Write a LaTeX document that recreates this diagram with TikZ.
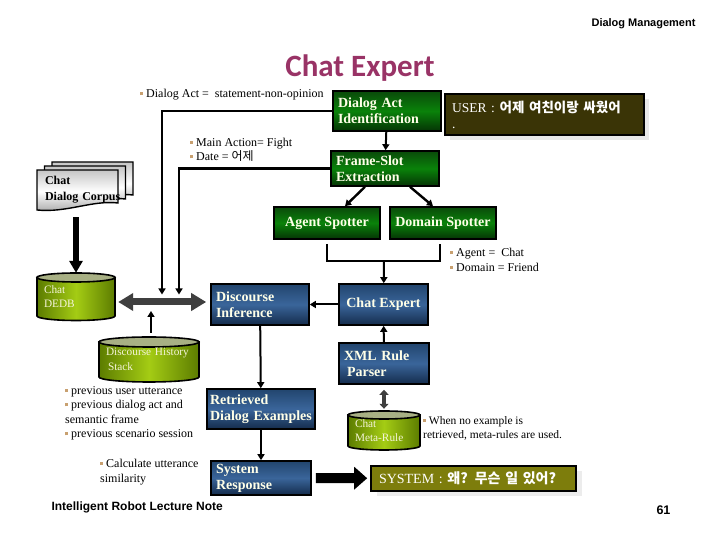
\documentclass[tikz,border=0pt]{standalone}
\usepackage{fontspec}
\setmainfont{Liberation Serif}
\newfontfamily\sansfont{Liberation Sans}
\newfontfamily\titlefont{Carlito}
\newfontfamily\krfont{Noto Sans CJK KR}
\usetikzlibrary{arrows.meta, positioning, shadows}

\definecolor{titlec}{HTML}{993366}
\definecolor{bulletc}{HTML}{C8A070}
\definecolor{boxtext}{HTML}{FFFFE8}
\definecolor{gtop}{HTML}{0A4A0A}
\definecolor{gmid}{HTML}{0A820A}
\definecolor{gbot}{HTML}{053405}
\definecolor{btop}{HTML}{22456E}
\definecolor{bmid}{HTML}{3A659A}
\definecolor{bbot}{HTML}{142C4C}
\definecolor{dbside}{HTML}{5C7C00}
\definecolor{dbmid}{HTML}{A4CC14}
\definecolor{dbcap}{HTML}{A8B084}
\definecolor{dbtext}{HTML}{F4F4D8}
\definecolor{userc}{HTML}{3A3406}
\definecolor{sysc}{HTML}{7D7D0C}
\definecolor{dgray}{HTML}{3F3F3F}

\newcommand{\sq}{\textcolor{bulletc}{\rule[0.22em]{0.25em}{0.25em}}\hspace{0.25em}}

% cylinder: name, cx, top y, bottom y, rx, ry, text width, text
\newcommand{\dbdrum}[8]{%
  \shade[left color=dbside, right color=dbside, middle color=dbmid, draw=black, line width=1.6pt]
    (#2-#5,#3) -- (#2-#5,#4) arc[start angle=180, end angle=360, x radius=#5pt, y radius=#6pt] -- (#2+#5,#3) -- cycle;
  \filldraw[fill=dbcap, line width=1.6pt] (#2,#3) ellipse[x radius=#5pt, y radius=#6pt];
  \node[drumtext, text width=#7, minimum height={#3-#4+2*#6}] (#1) at (#2,{(#3+#4)/2}) {#8};}

% one page of the corpus stack
\newcommand{\docpage}[2]{%
  \shade[top color=gray!45, bottom color=gray!70, middle color=white, draw=black, line width=1.4pt]
    (#1,#2) -- (#1+81,#2) -- (#1+81,#2-33) .. controls (#1+55,#2-30) and (#1+30,#2-43) .. (#1,#2-40) -- cycle;}

\tikzset{
  box/.style={draw=black, line width=1.6pt, align=left, inner xsep=5pt, inner ysep=1pt,
    font=\bfseries\fontsize{14}{16}\selectfont, text=boxtext},
  greenbox/.style={box, top color=gtop, bottom color=gbot, middle color=gmid},
  bluebox/.style={box, top color=btop, bottom color=bbot, middle color=bmid},
  drumtext/.style={align=left, inner xsep=7pt, inner ysep=0pt, text=dbtext, font=\fontsize{11.3}{14.5}\selectfont},
  note/.style={align=left, inner sep=0pt, anchor=west, font=\fontsize{12}{14.5}\selectfont},
  flow/.style={line width=2pt, -{Triangle[width=7pt,length=6pt]}},
  wire/.style={line width=2.2pt},
  fat/.style={line width=6pt, -{Triangle[width=13pt,length=12pt]}},
  bigfat/.style={line width=10pt, -{Triangle[width=22pt,length=13pt]}},
  twoway/.style={dgray, line width=7pt, {Triangle[width=17pt,length=15pt]}-{Triangle[width=17pt,length=15pt]}},
  smalltwoway/.style={dgray, line width=4pt, {Triangle[width=9pt,length=5pt]}-{Triangle[width=9pt,length=5pt]}},
}

\begin{document}
\begin{tikzpicture}[x=1pt, y=1pt]
\useasboundingbox (0,0) rectangle (720,540);
\fill[white] (0,0) rectangle (720,540);

\node[anchor=east, font=\sansfont\bfseries\fontsize{11}{13}\selectfont] (hdr) at (699,516) {Dialog Management};
\node[anchor=base, font=\titlefont\bfseries\fontsize{31}{36}\selectfont, text=titlec] (title) at (360,463) {Chat Expert};

\node[greenbox, text width=98pt, minimum height=40pt] (dai) at (387,429) {Dialog Act\\Identification};
\node[box, fill=userc, text=white, inner xsep=7pt, text width=185pt, minimum height=41pt,
  drop shadow={fill=gray!18, opacity=1, shadow xshift=5pt, shadow yshift=-5pt}] (user) at (544.5,425.5)
  {\fontsize{13.5}{17}\selectfont\mdseries USER : {\krfont\bfseries 어제 여친이랑 싸웠어}\\.};
\node[greenbox, text width=98pt, minimum height=35pt] (fse) at (385,371.5) {Frame-Slot\\Extraction};
\node[greenbox, minimum width=106pt, minimum height=32pt] (agent) at (327,317) {Agent Spotter};
\node[greenbox, minimum width=106pt, minimum height=32pt] (dom) at (443,317) {Domain Spotter};
\node[bluebox, minimum width=89pt, minimum height=41pt] (ce) at (383.5,235.5) {Chat Expert};
\node[bluebox, text width=88pt, minimum height=41pt] (di) at (260,235.5) {Discourse\\Inference};
\node[bluebox, text width=80pt, minimum height=41pt] (xml) at (384,176.5) {XML Rule\\\hspace{3pt}Parser};
\node[bluebox, inner xsep=3pt, text width=102pt, minimum height=40pt] (ret) at (261,131) {Retrieved\\\mbox{Dialog Examples}};
\node[bluebox, text width=90pt, minimum height=34pt] (sr) at (261,62) {System\\Response};
\node[box, fill=sysc, text=white, inner xsep=8pt, text width=189pt, minimum height=25pt,
  drop shadow={fill=gray!15, opacity=1, shadow xshift=6pt, shadow yshift=-5pt}] (sys) at (473.5,61.5)
  {\fontsize{14}{16}\selectfont\mdseries SYSTEM : {\krfont\bfseries 왜? 무슨 일 있어?}};

\docpage{52}{378}
\docpage{44.5}{374}
\docpage{37}{370}
\node[align=left, inner sep=0pt, text width=76pt, minimum height=40pt, font=\bfseries\fontsize{12}{16}\selectfont] (corpus) at (83,350) {Chat\\\mbox{Dialog Corpus}};

\dbdrum{dedb}{76}{262.5}{224}{39}{4.5}{64pt}{Chat\\DEDB}
\dbdrum{dhs}{149}{198}{163}{50}{5}{86pt}{\mbox{Discourse History}\\\hspace{2pt}Stack}
\dbdrum{meta}{384}{125}{94}{36}{4}{58pt}{Chat\\Meta-Rule}

\node[note] (dact) at (140,445) {\sq Dialog Act =\ \ statement-non-opinion};
\node[note] (slots) at (190,390) {\sq Main Action= Fight\\\sq Date = {\krfont 어제}};
\node[note] (spots) at (450,280) {\sq Agent =\ \ Chat\\\sq Domain = Friend};
\node[note] (hist) at (65,126.5) {\sq previous user utterance\\\sq previous dialog act and\\semantic frame\\\sq previous scenario session};
\node[note] (calc) at (100,68) {\sq Calculate utterance\\similarity};
\node[note, font=\fontsize{11.5}{14}\selectfont] (metanote) at (423,112) {\sq When no example is\\retrieved, meta-rules are used.};
\node[anchor=west, font=\sansfont\bfseries\fontsize{12}{14}\selectfont] (foot) at (48,33) {Intelligent Robot Lecture Note};
\node[anchor=west, font=\sansfont\bfseries\fontsize{12.5}{14}\selectfont] (pgno) at (653,30) {61};

\coordinate (ctx) at (162,238);
\coordinate (drop1) at (162,245.5);
\coordinate (drop2) at (179,245.5);
\coordinate (rise) at (151,229);
\coordinate (join) at (384,279);

\draw[twoway, shorten <=3pt, shorten >=4pt] (dedb.east |- ctx) -- (di.west |- ctx);
\draw[flow, line width=2.2pt] (dai.west) -| (drop1);
\draw[flow, line width=2.2pt] (fse.west) -| (drop2);
\draw[flow, shorten <=4pt] (dhs.north -| rise) -- (rise);
\draw[fat, shorten <=7pt] (corpus.south -| dedb) -- (dedb.north);
\draw[flow] (dai) -- (fse);
\draw[flow, line width=2.4pt] ([xshift=-20pt]fse.south) -- ([xshift=18pt]agent.north);
\draw[flow, line width=2.4pt] ([xshift=25pt]fse.south) -- ([xshift=-10pt]dom.north);
\draw[wire] ([yshift=-4pt]agent.south) |- (join) -| ([yshift=-4pt,xshift=-3pt]dom.south);
\draw[flow] (join) -- (ce);
\draw[flow] (ce) -- (di);
\draw[flow] (xml) -- (ce);
\draw[smalltwoway, shorten <=5pt, shorten >=2pt] (xml) -- (meta);
\draw[flow] (di) -- (ret);
\draw[flow] (ret) -- (sr);
\draw[bigfat, shorten <=4pt, shorten >=3pt] (sr) -- (sys);
\end{tikzpicture}
\end{document}
